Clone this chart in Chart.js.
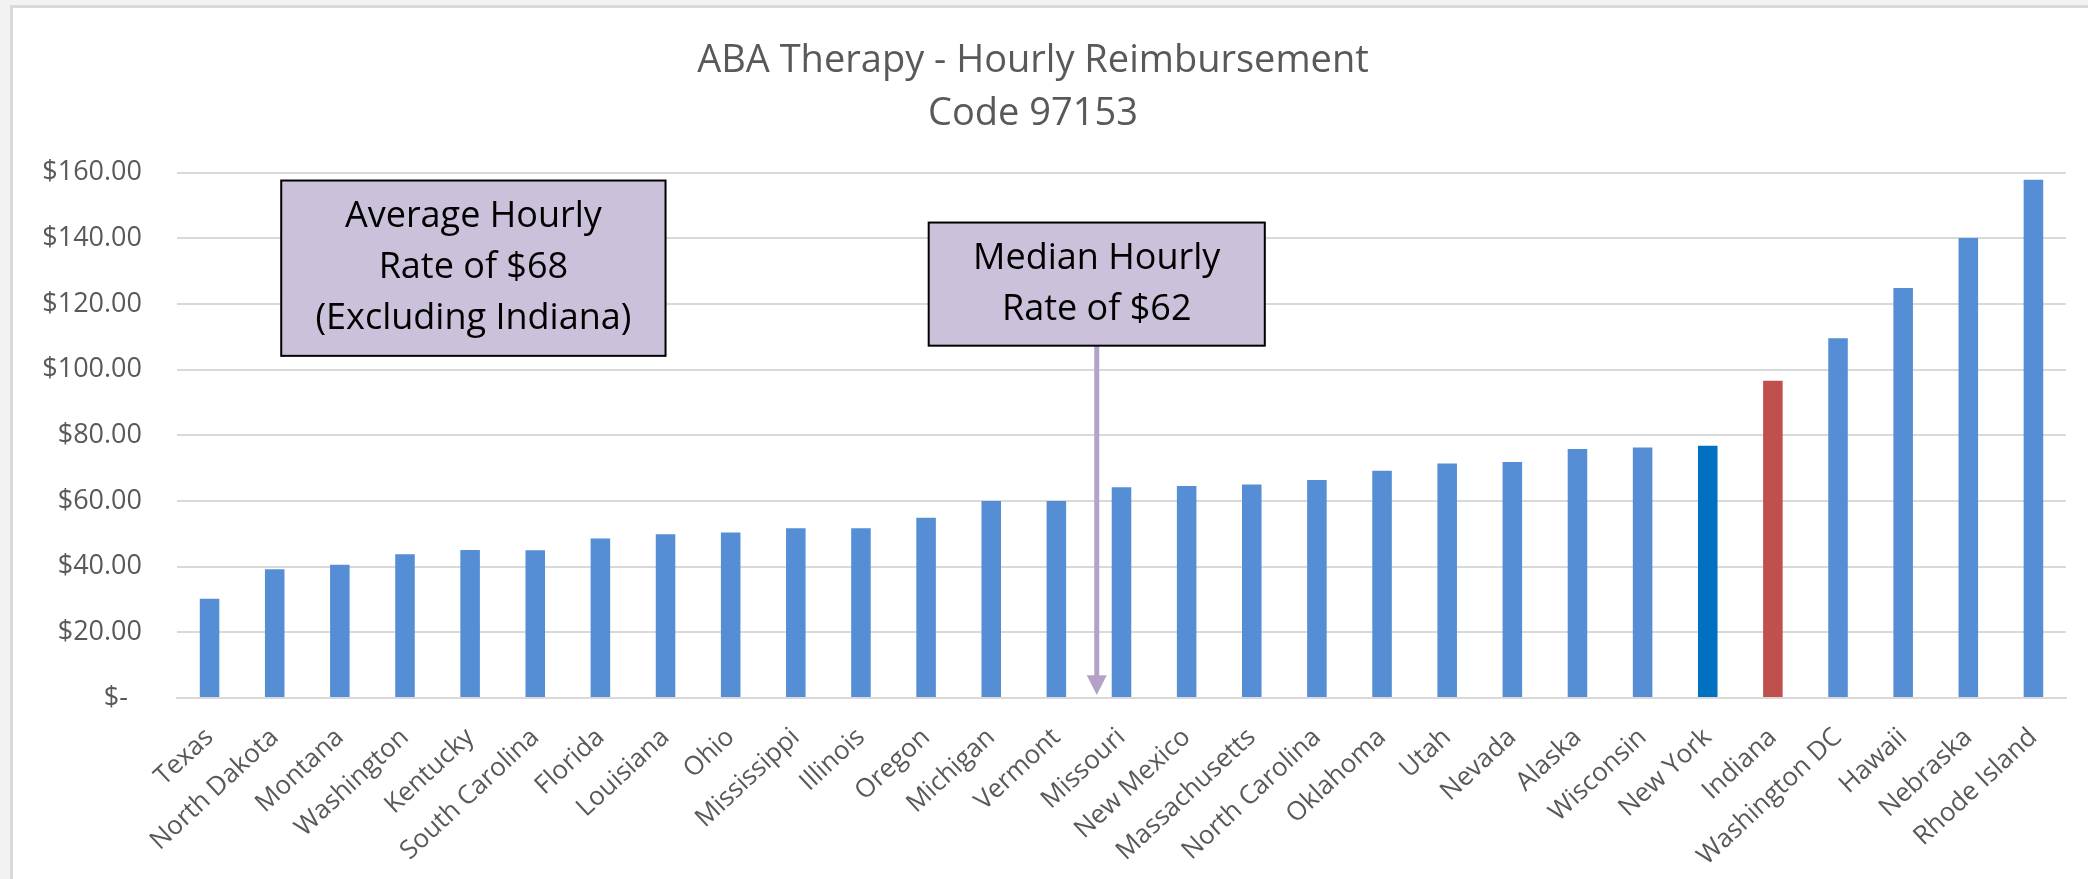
<!DOCTYPE html>
<html>
<head>
<meta charset="utf-8">
<script src="https://cdn.jsdelivr.net/npm/chart.js@4.4.1/dist/chart.umd.min.js"></script>
<style>
  html, body { margin: 0; padding: 0; background: #f2f2f2; }
  #wrap { position: absolute; left: 0; top: 0; width: 2088px; height: 879px; }
</style>
</head>
<body>
<div id="wrap"><canvas id="c" width="2088" height="879"></canvas></div>
<script>
// ---- data ----
const categories = ["Texas","North Dakota","Montana","Washington","Kentucky","South Carolina","Florida","Louisiana","Ohio","Mississippi","Illinois","Oregon","Michigan","Vermont","Missouri","New Mexico","Massachusetts","North Carolina","Oklahoma","Utah","Nevada","Alaska","Wisconsin","New York","Indiana","Washington DC","Hawaii","Nebraska","Rhode Island"];
const rates = [30.2, 39.2, 40.6, 43.8, 45.1, 45.0, 48.6, 49.9, 50.4, 51.7, 51.7, 54.9, 60.0, 60.0, 64.2, 64.6, 65.0, 66.4, 69.2, 71.4, 71.9, 75.8, 76.3, 76.8, 96.6, 109.6, 124.9, 140.1, 157.8];
const yTicks = [0, 20, 40, 60, 80, 100, 120, 140, 160];
const titleLines = ["ABA Therapy - Hourly Reimbursement", "Code 97153"];
const averageNote = ["Average Hourly", "Rate of $68", "(Excluding Indiana)"];
const medianNote = ["Median Hourly", "Rate of $62"];
const highlightNY = "New York";
const highlightIN = "Indiana";

// annotation placement in data units (category index / value)
const averageBox = { x0: 1.1, x1: 7.0, y0: 104.2, y1: 157.6 };
const medianBox = { x0: 11.04, x1: 16.2, y0: 107.3, y1: 144.8 };
const medianArrow = { x: 13.62, yTop: 107.3, yTip: 0.9, headLen: 6.0 };

const barColors = categories.map(c => c === highlightNY ? '#0070C0' : (c === highlightIN ? '#C0504D' : '#558ED5'));

const frameBg = {
  id: 'frameBg',
  beforeDraw(chart) {
    const ctx = chart.ctx;
    ctx.save();
    ctx.fillStyle = '#f2f2f2';
    ctx.fillRect(0, 0, chart.width, chart.height);
    ctx.fillStyle = '#ffffff';
    ctx.fillRect(11, 6, chart.width - 11, chart.height - 6);
    ctx.strokeStyle = '#d9d9d9';
    ctx.lineWidth = 3;
    ctx.beginPath();
    ctx.moveTo(11.5, chart.height);
    ctx.lineTo(11.5, 6.5);
    ctx.lineTo(chart.width, 6.5);
    ctx.stroke();
    ctx.restore();
  }
};

function drawNote(ctx, xs, ys, box, lines, lineGap) {
  const l = xs.getPixelForValue(box.x0), r = xs.getPixelForValue(box.x1);
  const t = ys.getPixelForValue(box.y1), b = ys.getPixelForValue(box.y0);
  ctx.fillStyle = '#CCC1DA';
  ctx.fillRect(l, t, r - l, b - t);
  ctx.strokeStyle = '#000000';
  ctx.lineWidth = 2;
  ctx.strokeRect(l, t, r - l, b - t);
  ctx.fillStyle = '#000000';
  ctx.font = '36px "Open Sans"';
  ctx.textAlign = 'center';
  ctx.textBaseline = 'middle';
  const cx = (l + r) / 2, cy = (t + b) / 2;
  const n = lines.length;
  lines.forEach((s, i) => {
    ctx.fillText(s, cx, cy + (i - (n - 1) / 2) * lineGap);
  });
}

const notes = {
  id: 'notes',
  afterDatasetsDraw(chart) {
    const ctx = chart.ctx;
    const xs = chart.scales.x, ys = chart.scales.y;
    ctx.save();
    // arrow
    const ax = xs.getPixelForValue(medianArrow.x);
    const aTop = ys.getPixelForValue(medianArrow.yTop);
    const aTip = ys.getPixelForValue(medianArrow.yTip);
    const aHead = ys.getPixelForValue(medianArrow.yTip + medianArrow.headLen);
    ctx.strokeStyle = '#B3A2C7';
    ctx.fillStyle = '#B3A2C7';
    ctx.lineWidth = 5;
    ctx.beginPath();
    ctx.moveTo(ax, aTop);
    ctx.lineTo(ax, aHead + 1);
    ctx.stroke();
    ctx.beginPath();
    ctx.moveTo(ax - 10, aHead);
    ctx.lineTo(ax + 10, aHead);
    ctx.lineTo(ax, aTip);
    ctx.closePath();
    ctx.fill();
    drawNote(ctx, xs, ys, averageBox, averageNote, 51);
    drawNote(ctx, xs, ys, medianBox, medianNote, 51);
    ctx.restore();
  }
};

new Chart(document.getElementById('c'), {
  type: 'bar',
  data: {
    labels: categories,
    datasets: [{
      data: rates,
      backgroundColor: barColors,
      borderWidth: 0,
      barPercentage: 0.3,
      categoryPercentage: 1.0
    }]
  },
  options: {
    responsive: false,
    animation: false,
    layout: { padding: { left: 0, right: 22, top: 0, bottom: 0 } },
    plugins: {
      legend: { display: false },
      tooltip: { enabled: false },
      title: {
        display: true,
        text: titleLines,
        color: '#595959',
        font: { family: '"Open Sans"', size: 38, weight: 'normal', lineHeight: 1.39 },
        padding: { top: 35, bottom: 32 }
      }
    },
    scales: {
      x: {
        grid: { display: false, drawTicks: false },
        border: { display: true, color: '#d9d9d9', width: 2 },
        ticks: {
          autoSkip: false,
          minRotation: 43,
          maxRotation: 43,
          padding: 24,
          color: '#595959',
          font: { family: '"Open Sans"', size: 26 }
        },
        afterFit(scale) { scale.height = 181; }
      },
      y: {
        min: 0,
        max: 160,
        afterBuildTicks(scale) { scale.ticks = yTicks.map(v => ({ value: v })); },
        grid: { color: '#d9d9d9', lineWidth: 2, drawTicks: false },
        border: { display: false },
        ticks: {
          padding: 35,
          color: '#595959',
          font: { family: '"Open Sans"', size: 27 },
          callback: v => v === 0 ? '$-  ' : '$' + Number(v).toFixed(2)
        },
        afterFit(scale) { scale.width = 177; }
      }
    }
  },
  plugins: [frameBg, notes]
});
</script>
</body>
</html>
